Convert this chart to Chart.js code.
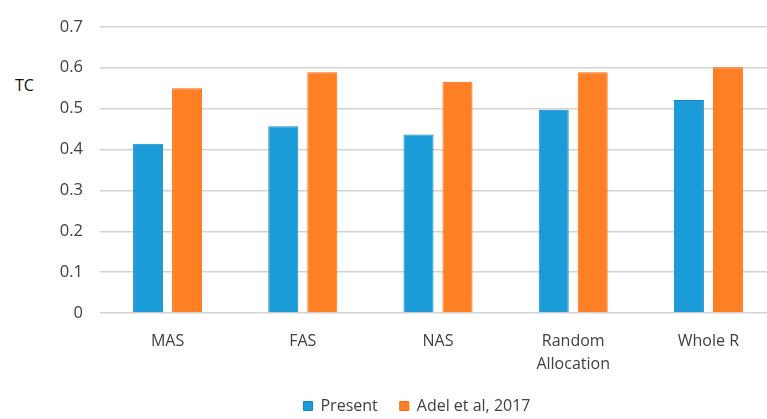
<!DOCTYPE html>
<html>
<head>
<meta charset="utf-8">
<script src="https://cdn.jsdelivr.net/npm/chart.js@4.4.0/dist/chart.umd.min.js"></script>
<style>
    body { margin: 0; background: #fff; overflow: hidden; width: 767px; height: 419px; position: relative; }
    #yTitle { position: absolute; left: 15px; top: 74px; font-family: 'Open Sans', sans-serif; font-size: 16px; color: #111; }
    canvas { position: absolute; left: 0; top: 0; }
</style>
</head>
<body>
<div id="yTitle">TC</div>
<canvas id="chart" width="790" height="419"></canvas>

<script>
let categories = [['MAS'], ['FAS'], ['NAS'], ['Random', 'Allocation'], ['Whole R']];
let presentValues = [0.414, 0.457, 0.437, 0.497, 0.521];
let adelValues = [0.55, 0.589, 0.566, 0.589, 0.601];
let seriesNames = ['Present', 'Adel et al, 2017'];
let yMax = 0.7;
let yStep = 0.1;

let fontName = "'Open Sans', sans-serif";
let textColor = '#404040';

function init() {
    const ctx = document.getElementById('chart');

    new Chart(ctx, {
        type: 'bar',
        data: {
            labels: categories,
            datasets: [{
                label: seriesNames[0],
                data: presentValues,
                backgroundColor: '#1b9bd7',
                borderColor: '#1287c8',
                borderWidth: 1
            }, {
                label: seriesNames[1],
                data: adelValues,
                backgroundColor: '#ff7f24',
                borderColor: '#f9690f',
                borderWidth: 1
            }]
        },
        options: {
            responsive: false,
            animation: false,
            categoryPercentage: 0.577,
            barPercentage: 0.77,
            layout: {
                // negative bottom so the legend sits low like in the picture
                padding: { left: 58, right: 14, top: 25, bottom: -5 }
            },
            scales: {
                x: {
                    grid: { display: false },
                    border: { display: false },
                    ticks: {
                        color: textColor,
                        padding: 9,
                        font: { family: fontName, size: 16, lineHeight: 1.42 }
                    },
                    afterFit: function (scale) {
                        scale.height = 63;
                    }
                },
                y: {
                    min: 0,
                    max: yMax,
                    border: { display: false },
                    grid: {
                        color: '#d3d3d3',
                        lineWidth: 1.5,
                        drawTicks: false
                    },
                    ticks: {
                        stepSize: yStep,
                        color: textColor,
                        padding: 17,
                        font: { family: fontName, size: 16.5 },
                        callback: function (value) {
                            return Math.round(value * 10) / 10;
                        }
                    },
                    afterFit: function (scale) {
                        scale.width = 42;
                    }
                }
            },
            plugins: {
                legend: {
                    position: 'bottom',
                    labels: {
                        color: textColor,
                        boxWidth: 9,
                        boxHeight: 9,
                        padding: 22,
                        font: { family: fontName, size: 16 }
                    }
                },
                tooltip: { enabled: false }
            }
        }
    });
}

init();
</script>
</body>
</html>
